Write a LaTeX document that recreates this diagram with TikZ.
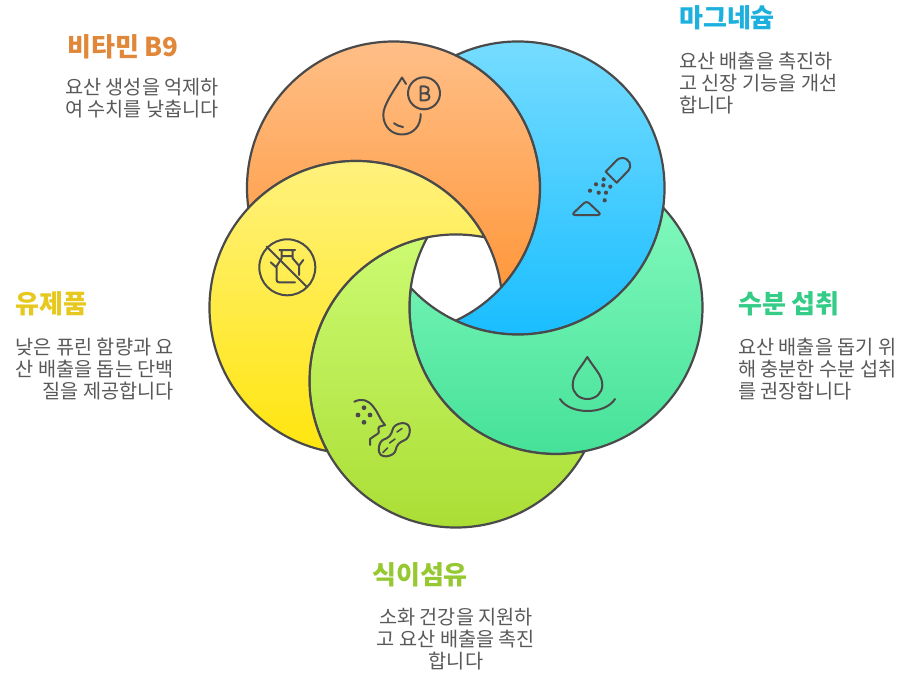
\documentclass[tikz,border=0pt]{standalone}
\usepackage{fontspec}
\setmainfont{Noto Sans CJK KR}
\usetikzlibrary{calc}

\definecolor{linec}{HTML}{4A4A4A}
\definecolor{bodyc}{HTML}{595959}
\definecolor{orangetop}{HTML}{FFC08A}
\definecolor{orangebot}{HTML}{FF983C}
\definecolor{bluetop}{HTML}{7CDEFF}
\definecolor{bluebot}{HTML}{18BDFF}
\definecolor{greentop}{HTML}{80F8BC}
\definecolor{greenbot}{HTML}{42E096}
\definecolor{limetop}{HTML}{CCFA72}
\definecolor{limebot}{HTML}{A8DC30}
\definecolor{yellowtop}{HTML}{FFF282}
\definecolor{yellowbot}{HTML}{FFE50F}
\definecolor{orangetext}{HTML}{E0873A}
\definecolor{bluetext}{HTML}{1CB0DE}
\definecolor{greentext}{HTML}{34CC86}
\definecolor{limetext}{HTML}{96C832}
\definecolor{yellowtext}{HTML}{E6C81E}

\tikzset{
  crescent/.style={draw=linec,line width=2.2pt,line join=round},
  icon/.style={draw=linec,line width=2pt,line cap=round,line join=round},
  headline/.style={anchor=west,inner sep=0pt,font=\fontsize{26}{30}\selectfont\bfseries},
  blurb/.style={inner sep=0pt,text=bodyc,font=\fontsize{19.7}{21.8}\selectfont}
}

\begin{document}
\begin{tikzpicture}[x=1pt,y=-1pt]
\useasboundingbox (0,0) rectangle (919,693);

% each crescent is its circle minus the next circle
\foreach \ax/\ay/\bx/\by/\ctop/\cbot in {
  393.5/188/356/307.5/orangetop/orangebot,
  518/188/393.5/188/bluetop/bluebot,
  556/307.5/518/188/greentop/greenbot,
  456/381/556/307.5/limetop/limebot,
  356/307.5/456/381/yellowtop/yellowbot}
{
  \pgfmathsetmacro\dirang{atan2(\by-\ay,\bx-\ax)}
  \pgfmathsetmacro\halfang{acos(veclen(\bx-\ax,\by-\ay)/293)}
  \shadedraw[crescent,top color=\ctop,bottom color=\cbot]
    ($(\ax,\ay)+(\dirang+\halfang:146.5)$)
    arc[start angle=\dirang+\halfang,delta angle=360-2*\halfang,radius=146.5]
    arc[start angle=\dirang+180+\halfang,delta angle=-2*\halfang,radius=146.5]
    -- cycle;
}

% vitamin drop
\draw[icon] (406,84) -- (402,77.5) .. controls (395,89) and (383,105) .. (383.3,115)
  .. controls (383.5,127) and (392,134.5) .. (402,134.5)
  .. controls (413,134.5) and (421,126) .. (420.7,114);
\draw[icon] (394,123.3) .. controls (397,125.5) and (400,126.5) .. (403,127);
\draw[icon] (424,93.3) circle (16);
\draw[icon] (420.5,100.5) -- (420.5,86.5) -- (425,86.5) .. controls (430,86.5) and (430,93.3) .. (425,93.3) -- (420.5,93.3)
  (425,93.3) .. controls (431,93.3) and (431,100.5) .. (425,100.5) -- (420.5,100.5);

% salt shaker
\draw[icon] (605.7,171.7) -- (616.7,182.7) -- (628,171) .. controls (633,165) and (629,158) .. (622,158)
  .. controls (620,158) and (618,159) .. (617,160) -- cycle;
\foreach \dotx/\doty in {596/184.3,603.3/185.3,603.7/179.3,610.3/186.7,590/190.7,598.7/192.7,606/192.7,604.7/200.3}
  \fill[linec] (\dotx,\doty) circle (2.1);
\draw[icon] (574.5,215) -- (598.5,215) .. controls (600.5,215) and (600,213.5) .. (599,212.5) -- (590,204)
  .. controls (587.5,201.5) and (585.5,201.5) .. (583,204) -- (574,212.5) .. controls (573,213.5) and (572.5,215) .. (574.5,215) -- cycle;

% milk can
\draw[icon] (287.3,267.3) circle (28);
\draw[icon] (266.7,246.7) -- (306.7,286.7);
\draw[icon] (279.3,250) -- (295,250) (281.7,250) -- (281.7,256) (292.7,250) -- (292.7,258.3) -- (299,265.7) -- (299,275)
  (281.7,256) -- (292.7,256) (299,265.7) -- (303.3,260) (270.7,262.3) -- (276.7,267.7)
  (281.7,256) -- (281.7,258.3) -- (276.7,266) -- (276.7,280) .. controls (276.7,281.5) and (277.5,282.3) .. (279,282.3) -- (295,282.3);

% water drop
\draw[icon] (587.3,357) .. controls (580,369) and (572.7,375) .. (572.7,385)
  .. controls (572.7,393) and (579,399) .. (587.3,399)
  .. controls (596,399) and (602.3,393) .. (602.3,385)
  .. controls (602.3,375) and (594.6,369) .. (587.3,357) -- cycle;
\draw[icon] (560,399) .. controls (570,415) and (605,415) .. (615,399);

% fibre and peanut
\draw[icon] (354.3,401.7) .. controls (362,398) and (368,400) .. (373.3,406.7)
  .. controls (378,412) and (380,420) .. (385,425) -- (379.3,426.7) .. controls (377,429) and (380,432) .. (378.3,433.3)
  -- (370,439) -- (370,445);
\foreach \dotx/\doty in {364/407.7,370/415,358/415,364/422.3}
  \fill[linec] (\dotx,\doty) circle (2.4);
\draw[icon] plot[smooth cycle,tension=.8] coordinates {(389.6,436) (395.7,425.3) (407.7,424.7) (408.3,436.7)
  (398.4,444) (392.8,454.2) (380.8,454.8) (380.2,442.8)};
\draw[icon,line width=1.6pt] (397,432) -- (402,428.5) (389.5,443) -- (395,439) (383,452.5) -- (387.5,448);

\node[headline,text=orangetext] (vitaminhead) at (67,47) {비타민 B9};
\node[blurb,anchor=west,align=left] (vitaminbody) at (65,98) {요산 생성을 억제하\\여 수치를 낮춥니다};
\node[headline,text=bluetext] (magnesiumhead) at (679,18) {마그네슘};
\node[blurb,anchor=west,align=left] (magnesiumbody) at (679,83) {요산 배출을 촉진하\\고 신장 기능을 개선\\합니다};
\node[headline,text=greentext] (waterhead) at (738,304) {수분 섭취};
\node[blurb,anchor=west,align=left] (waterbody) at (738,369) {요산 배출을 돕기 위\\해 충분한 수분 섭취\\를 권장합니다};
\node[headline,text=yellowtext] (dairyhead) at (15,304) {유제품};
\node[blurb,anchor=east,align=right] (dairybody) at (174,369) {낮은 퓨린 함량과 요\\산 배출을 돕는 단백\\질을 제공합니다};
\node[headline,text=limetext] (fibrehead) at (372,575) {식이섬유};
\node[blurb,align=center] (fibrebody) at (456,639) {소화 건강을 지원하\\고 요산 배출을 촉진\\합니다};
\end{tikzpicture}
\end{document}
